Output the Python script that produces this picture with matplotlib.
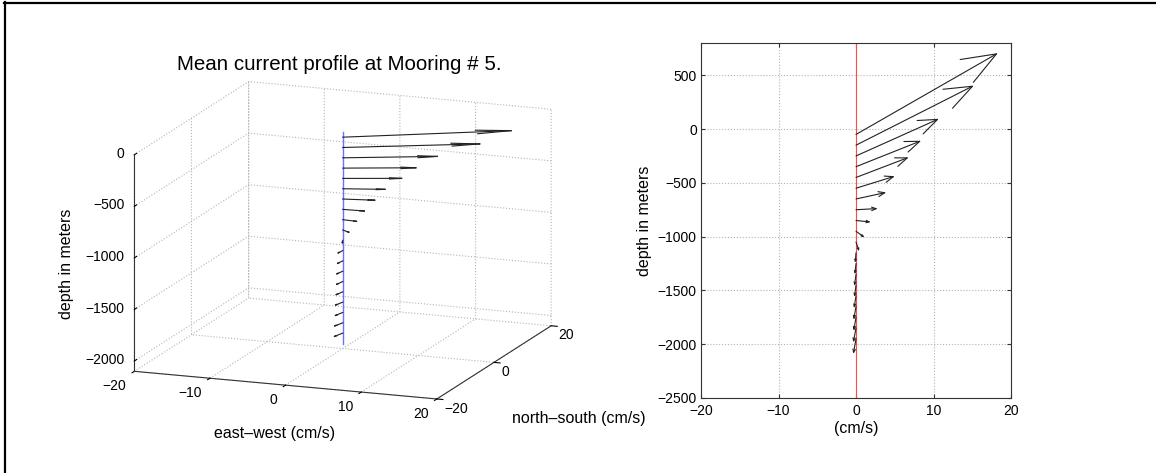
import numpy as np
import matplotlib.pyplot as plt
from matplotlib.lines import Line2D
from mpl_toolkits.mplot3d import proj3d

plt.rcParams['font.family'] = ['Liberation Sans', 'DejaVu Sans']
plt.rcParams['axes.unicode_minus'] = True

# mean current per depth bin (cm/s), depth in metres
depth = [-50, -150, -250, -350, -450, -550, -650, -750, -850, -950,
         -1050, -1150, -1250, -1350, -1450, -1550, -1650, -1750, -1850, -1950]
u_ew = [18.3, 15.2, 10.7, 8.4, 6.8, 5.0, 3.9, 2.8, 1.9, 1.1,
        0.4, -0.1, -0.15, -0.2, -0.2, -0.25, -0.3, -0.3, -0.35, -0.35]
v_ns = [10.5, 7.7, 4.8, 3.35, 2.6, 1.55, 0.85, 0.15, -0.2, -0.8,
        -1.2, -1.3, -1.4, -1.5, -1.55, -1.6, -1.7, -1.75, -1.85, -1.95]
mooring_top, mooring_bottom = 0, -2060

xticks3 = [-20, -10, 0, 10, 20]
yticks3 = [-20, 0, 20]
zticks3 = [-2000, -1500, -1000, -500, 0]

V_SCALE = 72       # metres of depth per cm/s in the profile view
HEAD = 0.21        # arrow head length / arrow length
HEAD_ANG = np.radians(21)
HEAD_ANG3 = np.radians(12)

GRID = '#b4b4b4'
AXC = '#333333'
ARR = '#222222'


def num(t):
    return f'{t:d}'.replace('-', '\u2212')


fig = plt.figure(figsize=(11.56, 4.73), dpi=100)
fig.add_artist(Line2D([0.0043, 0.0043], [0, 0.996], transform=fig.transFigure, color='k', lw=1.6))
fig.add_artist(Line2D([0.0035, 1], [0.9947, 0.9947], transform=fig.transFigure, color='k', lw=1.6))

# ---- 3D view ----
ax3 = fig.add_axes([0.0921, -0.0074, 0.398, 0.9725], projection='3d')
ax3.set_proj_type('ortho')
ax3.view_init(elev=14, azim=-69.3)
ax3.set_box_aspect((1, 1, 0.69), zoom=1.074)
ax3.set_xlim(-20, 20)
ax3.set_ylim(-20, 20)
ax3.set_zlim(-2100, 0)
ax3.set_xticks(xticks3)
ax3.set_yticks(yticks3)
ax3.set_zticks(zticks3)
ax3.tick_params(axis='both', labelbottom=False)
ax3.tick_params(axis='z', labelleft=False)
for axis in (ax3.xaxis, ax3.yaxis, ax3.zaxis):
    axis.set_pane_color((1, 1, 1, 0))
    axis.line.set_color(AXC)
    axis.line.set_linewidth(0.8)
    axis._axinfo['grid'].update(color=GRID, linestyle=':', linewidth=0.8)
    axis._axinfo['tick'].update(inward_factor=0.25, outward_factor=0.0, color=AXC)
    for tk in axis.get_major_ticks():
        tk.label1.set_visible(False)
        tk.label2.set_visible(False)
ax3.zaxis._axinfo['tick'].update(inward_factor=0.0, outward_factor=0.25)
ax3.zaxis.set_ticks_position('lower')

# tick labels: project the 3D anchor points and write them as flat text
M = ax3.get_proj()


def label3(x, y, z, s, ha):
    px, py, _ = proj3d.proj_transform(x, y, z, M)
    ax3.text2D(px, py, s, transform=ax3.transData, ha=ha, va='center', fontsize=10)


for t in xticks3:
    label3(t, -22.8, -2194, num(t), 'right')
for t in yticks3:
    label3(21.0, t, -2187, num(t), 'left')
for t in zticks3:
    label3(-21.3, -20, t, num(t), 'right')

ax3.plot([0, 0], [0, 0], [mooring_top, mooring_bottom], color='#7070ff', lw=1.0)
for d, u, v in zip(depth, u_ew, v_ns):
    ax3.plot([0, u], [0, v], [d, d], color=ARR, lw=0.8)
    ang = np.arctan2(v, u)
    L = np.hypot(u, v) * HEAD
    for s in (1, -1):
        a = ang + np.pi + s * HEAD_ANG3
        ax3.plot([u, u + L * np.cos(a)], [v, v + L * np.sin(a)], [d, d], color=ARR, lw=0.8)

fig.text(339 / 1156, 1 - 65 / 473, 'Mean current profile at Mooring # 5.', ha='center', va='center', fontsize=14.8)
fig.text(67 / 1156, 1 - 264 / 473, 'depth in meters', rotation=90, ha='center', va='center', fontsize=11.5)
fig.text(275 / 1156, 1 - 433 / 473, 'east\u2013west (cm/s)', ha='center', va='center', fontsize=11.5)
fig.text(579 / 1156, 1 - 418 / 473, 'north\u2013south (cm/s)', ha='center', va='center', fontsize=11.5)

# ---- profile view ----
ax2 = fig.add_axes([0.6064, 0.1586, 0.2682, 0.7505])
ax2.set_xlim(-20, 20)
ax2.set_ylim(-2500, 800)
ax2.set_xticks([-20, -10, 0, 10, 20])
ax2.set_yticks(np.arange(-2500, 501, 500))
ax2.grid(True, color=GRID, linestyle=':', linewidth=0.8)
ax2.tick_params(direction='in', top=True, right=True, length=3, color=AXC, labelsize=10, pad=3)
ax2.tick_params(axis='x', pad=4.5)
for sp in ax2.spines.values():
    sp.set_color(AXC)
    sp.set_linewidth(0.8)
ax2.axvline(0, color='#ff4a4a', lw=0.8)

for d, u, v in zip(depth, u_ew, v_ns):
    p0 = ax2.transData.transform((0, d))
    p1 = ax2.transData.transform((u, d + V_SCALE * v))
    L_pt = np.hypot(*(p1 - p0)) * 72 / fig.dpi
    ax2.annotate('', xy=(u, d + V_SCALE * v), xytext=(0, d),
                 arrowprops=dict(arrowstyle=f'->,head_length={HEAD * L_pt:.3f},head_width={HEAD * L_pt * np.tan(HEAD_ANG):.3f}',
                                 color=ARR, lw=0.8, shrinkA=0, shrinkB=0, mutation_scale=1))

ax2.set_xlabel('(cm/s)', fontsize=11.5, labelpad=2)
ax2.set_ylabel('depth in meters', fontsize=11.5)
ax2.yaxis.set_label_coords(-0.158, 0.5)

fig.savefig('out.png', dpi=100)
